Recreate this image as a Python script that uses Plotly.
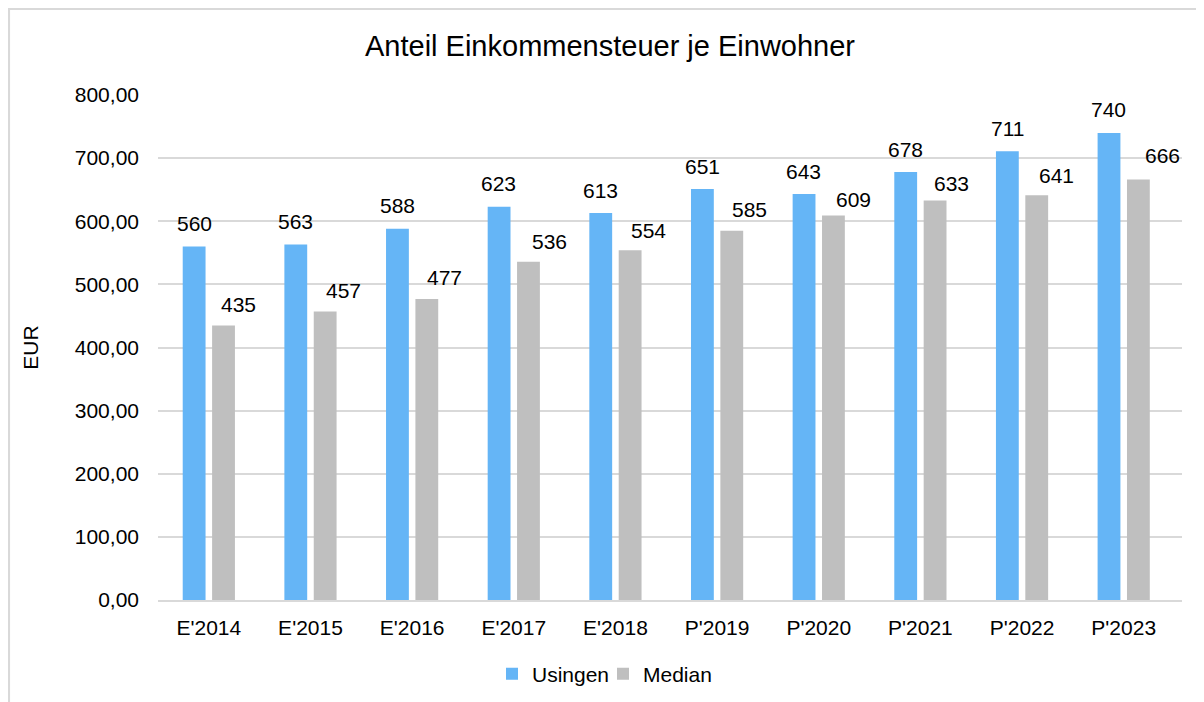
import plotly.graph_objects as go

categories = ["E'2014", "E'2015", "E'2016", "E'2017", "E'2018",
              "P'2019", "P'2020", "P'2021", "P'2022", "P'2023"]
usingen = [560, 563, 588, 623, 613, 651, 643, 678, 711, 740]
median = [435, 457, 477, 536, 554, 585, 609, 633, 641, 666]
# label placement (px) of the Median value labels, as placed in the original
median_label_dx = [15, 18, 18, 21, 18, 18, 20, 16, 20, 24]
median_label_dy = [21, 21, 21, 20, 20, 21, 16, 17, 20, 24]

BLUE = "#65B5F6"
GRAY = "#BFBFBF"
FONT = "Liberation Sans, Arial, sans-serif"
W, H = 1204, 702
L, R, T, B = 150, 30, 87, 110
PW, PH = W - L - R, H - T - B
BAR_OFF = 14.8  # half distance between the two bar centres in a group

fig = go.Figure()
fig.add_trace(go.Bar(x=categories, y=usingen, name="Usingen",
                     marker=dict(color=BLUE, line=dict(width=0))))
fig.add_trace(go.Bar(x=categories, y=median, name="Median",
                     marker=dict(color=GRAY, line=dict(width=0))))

annotations = []
for c, v in zip(categories, usingen):
    annotations.append(dict(x=c, y=v, text=str(v), showarrow=False,
                            xshift=-BAR_OFF, yshift=23, yanchor="middle",
                            font=dict(size=21, color="#000000", family=FONT)))
for c, v, dx, dy in zip(categories, median, median_label_dx, median_label_dy):
    annotations.append(dict(x=c, y=v, text=str(v), showarrow=False,
                            xshift=BAR_OFF + dx, yshift=dy, yanchor="middle",
                            font=dict(size=21, color="#000000", family=FONT)))

fig.update_layout(
    width=W, height=H,
    margin=dict(l=L, r=R, t=T, b=B),
    paper_bgcolor="white", plot_bgcolor="white",
    font=dict(family=FONT, size=21, color="#000000"),
    title=dict(text="Anteil Einkommensteuer je Einwohner",
               x=0.5, xanchor="center", y=1 - 38 / H, yanchor="middle",
               font=dict(size=29, family=FONT, color="#000000")),
    barmode="group", bargap=0.422, bargroupgap=0.223,
    showlegend=True,
    legend=dict(orientation="h", x=(524 - 40 - L) / PW, xanchor="left",
                y=-(666 - (H - B)) / PH, yanchor="middle",
                font=dict(size=21, family=FONT), itemwidth=30,
                entrywidth=66, entrywidthmode="pixels",
                traceorder="normal"),
    annotations=annotations,
    xaxis=dict(showgrid=False, showline=True, linecolor="#D9D9D9", linewidth=2,
               ticks="", ticklabelstandoff=8, tickfont=dict(size=21, family=FONT)),
    yaxis=dict(range=[0, 800], dtick=100, tickformat=",.2f",
               showgrid=True, gridcolor="#D9D9D9", gridwidth=2,
               zeroline=False, showline=False, ticks="",
               ticklabelstandoff=18,
               tickfont=dict(size=21, family=FONT),
               title=dict(text="EUR", font=dict(size=21, family=FONT), standoff=30)),
    separators=",.",
)

# outer chart border (light gray) at the figure edge
fig.add_shape(type="rect", xref="paper", yref="paper",
              x0=-L / PW + 0.0008, x1=(W - L) / PW + 0.01,
              y0=-B / PH - 0.02, y1=1 + T / PH - 0.0015,
              line=dict(color="#D9D9D9", width=2.5), fillcolor="rgba(0,0,0,0)",
              layer="below")

fig.write_html("out.html")
